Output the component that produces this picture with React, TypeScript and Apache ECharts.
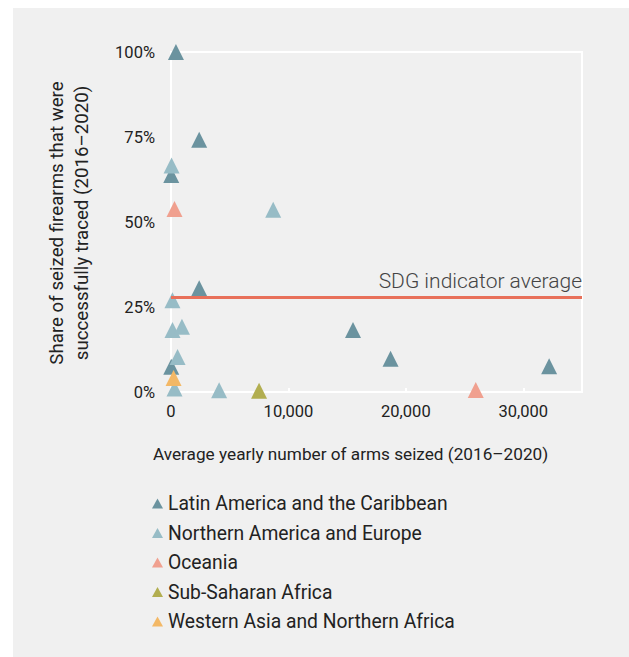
import React, { useEffect, useRef } from "react";
import * as echarts from "echarts";

const seriesNames = [
  "Latin America and the Caribbean",
  "Northern America and Europe",
  "Oceania",
  "Sub-Saharan Africa",
  "Western Asia and Northern Africa",
];
const seriesColors = ["#6b939f", "#97bcc6", "#f0a08f", "#b2ae50", "#f3b866"];

// [average yearly arms seized, share traced %]
const latinAmerica: [number, number][] = [
  [420, 100],
  [2400, 74.2],
  [20, 63.8],
  [2400, 30.5],
  [15500, 18.2],
  [18700, 9.8],
  [32200, 7.6],
  [20, 7.4],
];
const northAmericaEurope: [number, number][] = [
  [50, 66.6],
  [8700, 53.6],
  [120, 27],
  [130, 18.2],
  [930, 19.2],
  [560, 10.3],
  [300, 1],
  [4100, 0.5],
];
const oceania: [number, number][] = [
  [300, 53.8],
  [25950, 0.6],
];
const subSaharanAfrica: [number, number][] = [[7500, 0.4]];
const westernAsia: [number, number][] = [[220, 4.1]];

const sdgAverage = 28;
const xMax = 35000;
const xInterval = 10000;
const yTicks = [0, 25, 50, 75, 100];

const allSeries = [latinAmerica, northAmericaEurope, oceania, subSaharanAfrica, westernAsia];

export default function App() {
  const ref = useRef<HTMLDivElement>(null);
  useEffect(() => {
    document.body.style.margin = "0";
    const chart = echarts.init(ref.current!, null, { renderer: "svg" });
    const font = "Roboto, 'Noto Sans', sans-serif";
    const option: any = {
      animation: false,
      backgroundColor: "#ffffff",
      textStyle: { fontFamily: font },
      graphic: [
        {
          type: "rect",
          shape: { x: 13, y: 8, width: 616, height: 649 },
          style: { fill: "#f0f0f0" },
          z: -10,
          silent: true,
        },
        {
          type: "text",
          x: 69,
          y: 223,
          rotation: Math.PI / 2,
          style: {
            text: "Share of seized firearms that were\nsuccessfully traced (2016–2020)",
            fontFamily: font,
            fontSize: 18.7,
            lineHeight: 25,
            fill: "#222",
            align: "center",
            verticalAlign: "middle",
          },
        },
        {
          type: "text",
          x: 153,
          y: 454,
          style: {
            text: "Average yearly number of arms seized (2016–2020)",
            fontFamily: font,
            fontSize: 17.2,
            fill: "#222",
            align: "left",
            verticalAlign: "middle",
          },
        },
      ],
      grid: {
        left: 171,
        right: 47,
        top: 52,
        bottom: 265,
        show: true,
        borderColor: "#ffffff",
        borderWidth: 2,
        backgroundColor: "transparent",
      },
      legend: {
        orient: "vertical",
        left: 152,
        top: 494,
        padding: 0,
        data: seriesNames,
        icon: "triangle",
        itemWidth: 11,
        itemHeight: 10,
        itemGap: 10.5,
        textStyle: { fontSize: 19.3, color: "#222", fontFamily: font, lineHeight: 18 },
      },
      xAxis: {
        type: "value",
        min: 0,
        max: xMax,
        interval: xInterval,
        axisLine: { show: true, lineStyle: { color: "#ffffff", width: 2 } },
        axisTick: { show: true, inside: true, length: 4, lineStyle: { color: "#ffffff", width: 2 } },
        splitLine: { show: false },
        axisLabel: {
          fontSize: 16.5,
          color: "#222",
          margin: 11,
          showMaxLabel: false,
          formatter: (v: number) => v.toLocaleString("en-US"),
        },
      },
      yAxis: {
        type: "value",
        min: yTicks[0],
        max: yTicks[yTicks.length - 1],
        interval: 25,
        axisLine: { show: true, lineStyle: { color: "#ffffff", width: 2 } },
        axisTick: { show: false },
        splitLine: { show: false },
        axisLabel: { fontSize: 16.5, color: "#222", margin: 16, formatter: "{value}%" },
      },
      series: [
        ...seriesNames.map((name, i) => ({
          name,
          type: "scatter",
          symbol: "triangle",
          symbolSize: 16,
          itemStyle: { color: seriesColors[i], opacity: 1 },
          data: allSeries[i],
          z: 3,
        })),
        {
          name: "SDG",
          type: "scatter",
          data: [],
          z: 5,
          markLine: {
            silent: true,
            symbol: "none",
            z: 5,
            lineStyle: { color: "#e8705a", width: 3, type: "solid" },
            label: {
              show: true,
              position: "insideEndTop",
              formatter: "SDG indicator average",
              fontSize: 21,
              fontWeight: 300,
              color: "#444",
              fontFamily: font,
              distance: [0, 5],
            },
            data: [[{ coord: [0, sdgAverage] }, { coord: [xMax, sdgAverage] }]],
          },
        },
      ],
    };
    chart.setOption(option);
    return () => chart.dispose();
  }, []);
  return <div ref={ref} style={{ width: 629, height: 657 }} />;
}
